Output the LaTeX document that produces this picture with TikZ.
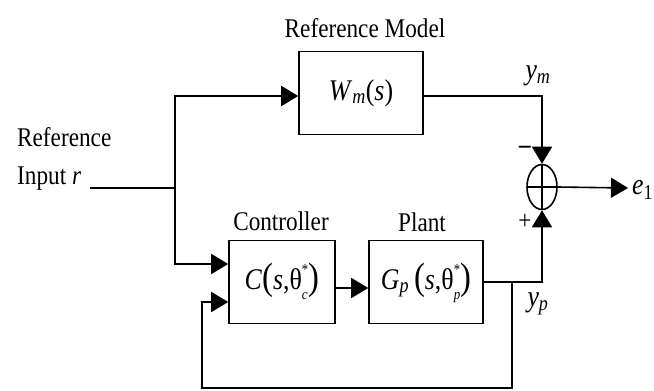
\documentclass[tikz,border=0pt]{standalone}
\usepackage{fontspec}
\setmainfont{Liberation Serif}[FakeStretch=0.86]
\usetikzlibrary{arrows.meta,shapes.geometric}
\newcommand\bigpar[1]{{\fontsize{38}{38}\selectfont #1}}
\newcommand\mathsz{\fontsize{30}{34}\selectfont}
\newcommand\supsub[2]{\raisebox{-10pt}{\renewcommand\arraystretch{0.72}\begin{tabular}[b]{@{}l@{}}\fontsize{15}{12}\selectfont #1\\\fontsize{15}{12}\selectfont\itshape #2\end{tabular}}}
\begin{document}
\begin{tikzpicture}[x=1pt,y=-1pt,
  every node/.style={font=\fontsize{27}{30}\selectfont, inner sep=0pt},
  blockbox/.style={draw, line width=1.6pt, minimum width=#1, minimum height=83pt, font=\mathsz},
  wire/.style={line width=1.6pt},
  arr/.style={wire, -{Triangle[length=17pt,width=20pt]}},
  sumnode/.style={draw, ellipse, line width=1.6pt, minimum width=30pt, minimum height=45pt,
    path picture={\draw[line width=1.4pt] (path picture bounding box.north) -- (path picture bounding box.south)
      (path picture bounding box.west) -- (path picture bounding box.east);}}
]
\useasboundingbox (0,0) rectangle (654,391);

% blocks
\node[blockbox=124pt] (rm) at (361,93) {\textit{W}\textsubscript{\textit{m}}(\textit{s})};
\node[blockbox=106pt] (ctrl) at (282,282) {\textit{C}\bigpar{(}\textit{s},θ\supsub{*}{c}\bigpar{)}};
\node[blockbox=114pt] (plant) at (426,282) {\textit{G}\textsubscript{\textit{p}}\,\bigpar{(}\textit{s},θ\supsub{*}{p}\bigpar{)}};
\node[sumnode] (sum) at (542,187) {};

% labels
\node (rmlab) at (365,28) {Reference Model};
\node (ctrllab) at (281,221) {Controller};
\node (plantlab) at (422,222) {Plant};
\node[anchor=base west] (reftxt) at (17,146) {Reference};
\node[anchor=base west] (inptxt) at (17,184) {Input \textit{r}};
\node[font=\mathsz] (ym) at (538,76) {\textit{y}\textsubscript{\textit{m}}};
\node[font=\mathsz] (yp) at (538,304) {\textit{y}\textsubscript{\textit{p}}};
\node (minus) at (525,150) {\textbf{--}};
\node (plus) at (525,222) {+};
\node[anchor=west, font=\mathsz] (e1) at (632,190) {\textit{e}\textsubscript{1}};

% coordinates
\coordinate (in) at (90,188);
\coordinate (br) at (175,188);
\coordinate (j) at (512,281);
\coordinate (fb) at (202,388);
\coordinate (out) at (628,188);

% connectors
\draw[wire] (in) -- (br);
\draw[arr] (br) |- ([yshift=-3pt]rm.west);
\draw[arr] (br) |- ([yshift=18pt]ctrl.west);
\draw[arr] ([yshift=-6pt]ctrl.east) -- ([yshift=-6pt]plant.east -| plant.west);
\draw[arr] (plant.east) -| (sum.south);
\draw[arr] ([yshift=-3pt]rm.east) -| (sum.north);
\draw[arr] (sum.east) -- (out);
\draw[arr] (j) |- (fb) |- ([yshift=-20pt]ctrl.west);
\end{tikzpicture}
\end{document}
